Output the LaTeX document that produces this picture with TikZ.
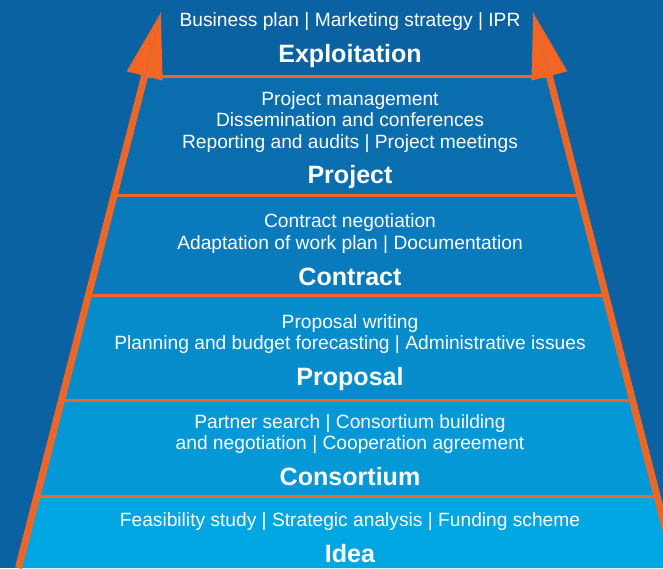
\documentclass[tikz,border=0pt]{standalone}
\usepackage{fontspec}
\setmainfont{Liberation Sans}
\usetikzlibrary{calc,arrows.meta}

\definecolor{bg-blue}{HTML}{0B62A3}
\definecolor{l-project}{HTML}{0A6DAE}
\definecolor{l-contract}{HTML}{097BBC}
\definecolor{l-proposal}{HTML}{078CCB}
\definecolor{l-consortium}{HTML}{0598D6}
\definecolor{l-idea}{HTML}{00A6E1}
\definecolor{side-orange}{HTML}{F26522}

\tikzstyle{items}=[text=white, align=center, inner sep=0pt, font=\fontsize{14.4}{16.2}\selectfont]
\tikzstyle{stage}=[text=white, inner sep=0pt, font=\fontsize{18.8}{21}\selectfont\bfseries]
\tikzstyle{separator}=[draw=side-orange, line width=2.25pt]
\tikzstyle{side-arrow}=[draw=side-orange, line width=5.25pt, -{Triangle[length=49.5pt, width=26.25pt]}]
\tikzstyle{side-core}=[draw=side-orange!55!gray, line width=0.4pt]

\begin{document}
\begin{tikzpicture}[x=0.75pt, y=-0.75pt]
      \fill[bg-blue] (0,0) rectangle (663,568);
      \clip (0,0) rectangle (663,568);

      \coordinate (side-lb) at (18.5,568);
      \coordinate (side-lt) at (161,12);
      \coordinate (side-rb) at (675.5,568);
      \coordinate (side-rt) at (533,12);

      % layers of the pyramid
      \foreach \ytop/\ybot/\col in {76/195/l-project, 195/295/l-contract, 295/400/l-proposal, 400/496/l-consortium, 496/568/l-idea}
        \fill[\col] ($(side-lb)!{(568-\ytop)/556}!(side-lt)$) -- ($(side-rb)!{(568-\ytop)/556}!(side-rt)$)
          -- ($(side-rb)!{(568-\ybot)/556}!(side-rt)$) -- ($(side-lb)!{(568-\ybot)/556}!(side-lt)$) -- cycle;
      \foreach \y in {76,195,295,400,496}
        \draw[separator] ($(side-lb)!{(568-\y)/556}!(side-lt)$) -- ($(side-rb)!{(568-\y)/556}!(side-rt)$);

      \draw[side-arrow] (side-lb) -- (side-lt);
      \draw[side-arrow] (side-rb) -- (side-rt);
      \draw[side-core] (side-lb) -- (side-lt);
      \draw[side-core] (side-rb) -- (side-rt);

      \node (items:exploitation) at (350, 22) [items] {Business plan | Marketing strategy | IPR};
      \node (stage:exploitation) at (350, 56) [stage] {Exploitation};

      \node (items:project) at (350,122) [items] {Project management\\Dissemination and conferences\\Reporting and audits | Project meetings};
      \node (stage:project) at (350,177) [stage] {Project};

      \node (items:contract) at (350,233.5) [items] {Contract negotiation\\Adaptation of work plan | Documentation};
      \node (stage:contract) at (350,276.5) [stage] {Contract};

      \node (items:proposal) at (350,334) [items] {Proposal writing\\Planning and budget forecasting | Administrative issues};
      \node (stage:proposal) at (350,379.5) [stage] {Proposal};

      \node (items:consortium) at (350,434) [items] {Partner search | Consortium building\\and negotiation | Cooperation agreement};
      \node (stage:consortium) at (350,476.5) [stage] {Consortium};

      \node (items:idea) at (350,522) [items] {Feasibility study | Strategic analysis | Funding scheme};
      \node (stage:idea) at (350,554) [stage] {Idea};
    \end{tikzpicture}
\end{document}
